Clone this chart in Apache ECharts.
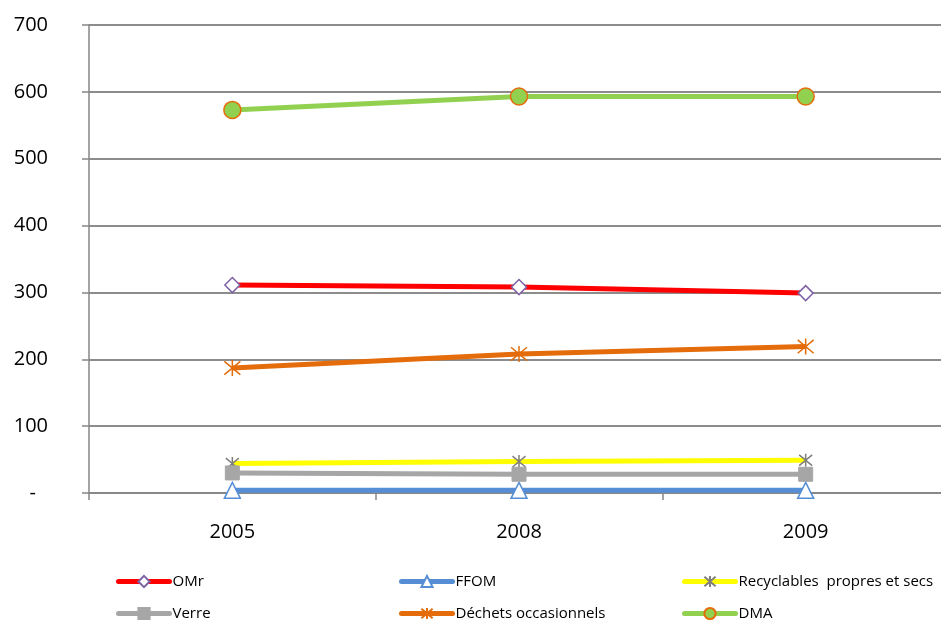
<!DOCTYPE html>
<html>
<head>
<meta charset="utf-8">
<script src="https://cdn.jsdelivr.net/npm/echarts@6/dist/echarts.min.js"></script>
<style>
  html, body { margin: 0; padding: 0; background: #fff; overflow: hidden; }
  #chart { width: 949px; height: 621px; }
</style>
</head>
<body>
<div id="chart"></div>
<script>
// Years on the category axis
const years = ['2005', '2008', '2009'];

// Tonnage per series (kg/hab/an)
const omr = [311, 308, 299];
const ffom = [4, 4, 4];
const recyclables = [44, 47, 49];
const verre = [30, 28, 28];
const dechetsOcc = [187, 208, 219];
const dma = [573, 593, 593];

// Six-armed asterisk marker drawn as a stroked path
const asterisk = 'path://M1,1L11,11M11,1L1,11M6,0L6,12';

const FONT = '"Open Sans", sans-serif';

function series(name, data, color, symbol, size, fill, border, bw, z) {
  return {
    name, type: 'line', data, symbol, symbolSize: size, z,
    showSymbol: true,
    lineStyle: { color, width: 5 },
    itemStyle: { color: fill, borderColor: border, borderWidth: bw },
    emphasis: { disabled: true }
  };
}

const seriesList = [
  series('OMr', omr, '#FF0000', 'diamond', 15, '#FFFFFF', '#7E62A6', 1.5, 2),
  series('FFOM', ffom, '#558ED5', 'triangle', 16, '#FFFFFF', '#558ED5', 1.5, 3),
  series('Recyclables  propres et secs', recyclables, '#FFFF00', asterisk, 13, 'transparent', '#7F7F7F', 1.5, 4),
  series('Verre', verre, '#A6A6A6', 'rect', 14, '#A6A6A6', '#A6A6A6', 1, 5),
  series('Déchets occasionnels', dechetsOcc, '#E46C0A', asterisk, 16, 'transparent', '#E46C0A', 1.5, 6),
  series('DMA', dma, '#92D050', 'circle', 17, '#92D050', '#E46C0A', 1.5, 7)
];

// One legend block per entry, laid out on a 3 x 2 grid
const legendPos = [
  { left: 116, top: 574 }, { left: 399, top: 574 }, { left: 682, top: 574 },
  { left: 116, top: 606 }, { left: 399, top: 606 }, { left: 682, top: 606 }
];
const legends = seriesList.map((s, i) => ({
  data: [s.name],
  left: legendPos[i].left,
  top: legendPos[i].top,
  padding: 0,
  itemWidth: 51,
  itemHeight: 14,
  itemGap: 3,
  selectedMode: false,
  lineStyle: { width: 5, cap: 'round' },
  textStyle: { fontFamily: FONT, fontSize: 15, color: '#000', padding: [0, 0, 0, -2] }
}));

const chart = echarts.init(document.getElementById('chart'), null, { renderer: 'canvas' });
chart.setOption({
  animation: false,
  backgroundColor: '#ffffff',
  legend: legends,
  grid: { left: 89, right: 0, top: 25, bottom: 128, containLabel: false },
  xAxis: {
    type: 'category',
    data: years,
    boundaryGap: true,
    axisLine: { lineStyle: { color: '#868686', width: 1.5 } },
    axisTick: { show: true, length: 7, lineStyle: { color: '#868686', width: 1.5 } },
    axisLabel: { fontFamily: FONT, fontSize: 20, color: '#000', margin: 29 }
  },
  yAxis: {
    type: 'value',
    min: 0, max: 700, interval: 100,
    axisLine: { show: true, lineStyle: { color: '#868686', width: 1.5 } },
    axisTick: { show: true, length: 7, lineStyle: { color: '#868686', width: 1.5 } },
    splitLine: { lineStyle: { color: '#8C8C8C', width: 2 } },
    axisLabel: {
      fontFamily: FONT, fontSize: 20, color: '#000', margin: 41,
      formatter: v => (v === 0 ? '{dash|-}' : String(v)),
      rich: { dash: { fontFamily: FONT, fontSize: 20, color: '#000', padding: [0, 12, 0, 0] } }
    }
  },
  series: seriesList
});
</script>
</body>
</html>
